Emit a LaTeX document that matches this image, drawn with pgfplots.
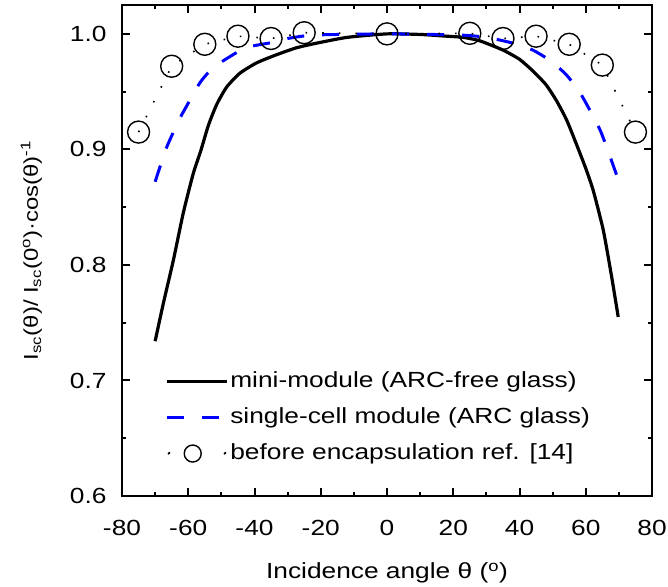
\documentclass[border=0pt]{standalone}
\usepackage{fontspec}
\setmainfont{Liberation Sans}[FakeStretch=1.2]
\usepackage{pgfplots}
\pgfplotsset{compat=1.18}
\begin{document}
\fontsize{22}{26}\selectfont
\begin{tikzpicture}
\begin{axis}[
  scale only axis, width=530bp, height=491bp,
  xmin=-80, xmax=80, ymin=0.6, ymax=1.025,
  xtick={-80,-60,...,80}, ytick={0.6,0.7,0.8,0.9,1.0},
  minor x tick num=1, minor y tick num=1,
  tick pos=both, tick align=inside,
  major tick length=8bp, minor tick length=4bp,
  axis line style={line width=2bp},
  every tick/.style={line width=2bp, black},
  /pgf/number format/assume math mode=true,
  tick label style={font=\fontsize{22}{26}\selectfont},
  label style={font=\fontsize{22}{26}\selectfont},
  ylabel style={font=\fontsize{20}{24}\selectfont},
  yticklabel style={/pgf/number format/fixed, /pgf/number format/fixed zerofill, /pgf/number format/precision=1},
  xticklabel style={yshift=-17bp},
  yticklabel style={xshift=-8bp},
  xlabel shift=12bp,
  ylabel shift=13bp,
  xlabel={Incidence angle θ (\textsuperscript{o})},
  ylabel={I\textsubscript{sc}(θ)/ I\textsubscript{sc}(0\textsuperscript{o})·cos(θ)\textsuperscript{-1}},
  legend style={draw=none, fill=none, at={(rel axis cs:0.081,0.259)}, anchor=north west,
    font=\fontsize{22}{26}\selectfont, row sep=11bp, inner sep=0pt,
    nodes={text height=16bp, text depth=5bp, inner sep=2bp}},
  legend cell align=left,
  legend image code/.code={\draw[#1] (0bp,0bp) -- (60bp,0bp);},
]
\coordinate (bl) at (rel axis cs:0,0);
\coordinate (tr) at (rel axis cs:1,1);
\addplot[black, line width=3.2bp, smooth, tension=0.35] coordinates {
(-70,0.734) (-67.5,0.767) (-64.5,0.804) (-61.5,0.845) (-58.5,0.879) (-56.2,0.899)
(-53.9,0.921) (-51.4,0.939) (-48.4,0.954) (-44.4,0.966) (-39.3,0.975) (-33.3,0.982)
(-27.3,0.988) (-21.2,0.992) (-12,0.997) (0,1.000) (10,0.9995) (18,0.998) (23,0.997)
(28,0.994) (35,0.986) (40,0.978) (44,0.968) (48,0.956) (51.2,0.942) (54.3,0.925) (57.8,0.900)
(60.2,0.882) (62.3,0.864) (65.3,0.830) (67.8,0.790) (69.8,0.755)
};
\addlegendentry{mini-module (ARC-free glass)}
\addplot[blue, line width=3bp, dash pattern=on 17bp off 18bp, smooth, tension=0.35] coordinates {
(-70,0.872) (-66.5,0.902) (-62.5,0.927) (-60.4,0.938) (-56.4,0.958) (-52.4,0.971)
(-45.3,0.984) (-41.4,0.989) (-33.8,0.993) (-30,0.996) (-22,0.999) (0,1.0) (22,0.999)
(30,0.997) (38,0.992) (44,0.986) (49.2,0.977) (54,0.965) (58.3,0.949)
(64.3,0.917) (68.8,0.882) (70,0.872)
};
\addlegendentry{single-cell module (ARC glass)}
\addplot[black, line width=1.6bp, dash pattern=on 1.6bp off 15bp,
  mark=o, mark size=11bp, mark options={solid, fill=white, line width=1.4bp},
  legend image code/.code={
    \fill[black] (2bp,0bp) circle (1.2bp);
    \fill[black] (58bp,0bp) circle (1.2bp);
    \draw[black, solid, line width=1.4bp, fill=white] (26bp,0bp) circle (8.5bp);}] coordinates {
(-75,0.915) (-65,0.972) (-55,0.991) (-45,0.998) (-35,0.996) (-25,1.001) (0,1.000)
(25,1.0005) (35,0.996) (45,0.998) (55,0.991) (65,0.973) (75,0.915)
};
\addlegendentry{before encapsulation ref. [14]}
\end{axis}
\pgfresetboundingbox
\path[use as bounding box] ([shift={(-122bp,-90bp)}]bl) rectangle ([shift={(16bp,5bp)}]tr);
\end{tikzpicture}
\end{document}
